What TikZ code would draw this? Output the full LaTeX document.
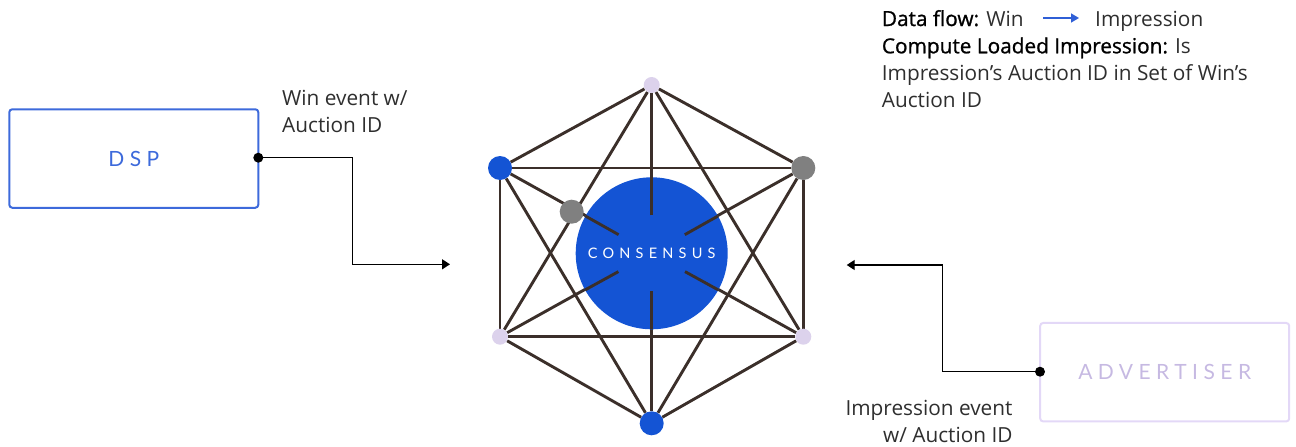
\documentclass[tikz,border=0pt]{standalone}
\usepackage{fontspec}
\setmainfont{Open Sans}
\newfontfamily\medfont{Open Sans}[FakeBold=1.0]
\newfontfamily\boxfont{Lato}
\usetikzlibrary{arrows.meta,calc}
\pgfdeclarelayer{bg}
\pgfsetlayers{bg,main}
\definecolor{nodeblue}{HTML}{1454D4}
\definecolor{dspblue}{HTML}{3D6ADB}
\definecolor{nodegray}{HTML}{808080}
\definecolor{lav}{HTML}{DCD2EC}
\definecolor{edgec}{HTML}{3B2F2A}
\definecolor{advborder}{HTML}{E3D8F7}
\definecolor{advtext}{HTML}{C6B9E2}
\definecolor{txt}{HTML}{2E2E2E}
\definecolor{legblue}{HTML}{2F5FD6}
\tikzset{
  edge/.style={draw=edgec, line width=2.9pt},
  bignode/.style={circle, inner sep=0pt, minimum size=24pt},
  smallnode/.style={circle, inner sep=0pt, minimum size=16pt, fill=lav},
  flow/.style={draw=black, line width=1.4pt, -{Triangle[length=8pt,width=10pt]}},
  dot/.style={circle, fill=black, inner sep=0pt, minimum size=10pt},
  label/.style={inner sep=0pt, text=txt, font=\fontsize{20.8}{27}\selectfont},
  box/.style={rectangle, rounded corners=3pt, line width=2pt, minimum width=249pt, minimum height=98.5pt,
              font=\boxfont\fontsize{21}{25}\selectfont\addfontfeature{LetterSpace=26}}
}
\begin{document}
\begin{tikzpicture}[x=1pt,y=-1pt]
\useasboundingbox (0,0) rectangle (1296,447);
% consensus hub
\node[circle, fill=nodeblue, inner sep=0pt, minimum size=152pt, text=white,
      font=\boxfont\fontsize{14.5}{16}\selectfont\addfontfeature{LetterSpace=36}] (c) at (651.7,253.3) {CONSENSUS};
\node[smallnode] (top) at (651.7,85) {};
\node[bignode, fill=nodeblue] (ul) at (500,168) {};
\node[bignode, fill=nodegray] (ur) at (803.3,168) {};
\node[smallnode] (ll) at (500,336.7) {};
\node[smallnode] (lr) at (803.3,336.7) {};
\node[bignode, fill=nodeblue] (bot) at (651.7,423.3) {};
\node[bignode, fill=nodegray] (g) at (571.7,211.7) {};
\begin{pgfonlayer}{bg}
\draw[edge] (top) -- (ul);
\draw[edge] (top) -- (ur);
\draw[edge] (ul) -- (ll);
\draw[edge] (ur) -- (lr);
\draw[edge] (ll) -- (bot);
\draw[edge] (lr) -- (bot);
\draw[edge] (ul) -- (ur);
\draw[edge] (ll) -- (lr);
\draw[edge] (top) -- (ll);
\draw[edge] (top) -- (lr);
\draw[edge] (bot) -- (ul);
\draw[edge] (bot) -- (ur);
\draw[edge] (top) -- (bot);
\draw[edge] (ul) -- (lr);
\draw[edge] (ur) -- (ll);
\end{pgfonlayer}
\foreach \v in {top,bot,ul,ur,ll,lr}
  \draw[edge] ($(c)!38pt!(\v)$) -- ($(c)!76pt!(\v)$);
% DSP
\node[box, draw=dspblue, text=dspblue] (dsp) at (133.8,158.5) {DSP};
\node[dot] (d1) at (258.3,157.7) {};
\coordinate (k1) at (352.7,264.3);
\coordinate (a1) at (450,264.3);
\draw[flow] (d1.center) -| (k1) -- (a1);
\node[label, anchor=base west, align=left] (winlbl) at (282,132.3) {Win event w/\\Auction ID};
% Advertiser
\node[box, draw=advborder, text=advtext] (adv) at (1164.7,372.2) {ADVERTISER};
\node[dot] (d2) at (1040,371.7) {};
\coordinate (k2) at (942.7,265);
\coordinate (a2) at (846.7,265);
\draw[flow] (d2.center) -| (k2) -- (a2);
\node[label, anchor=base east, align=right] (implbl) at (1012.7,442.3) {Impression event\\w/ Auction ID};
% legend
\node[label, anchor=base west] (leg1) at (881.7,26) {{\medfont\color{black}Data flow:} Win};
\coordinate (la) at (1043,18);
\coordinate (lb) at (1079,18);
\draw[draw=legblue, line width=1.6pt, -{Triangle[length=8pt,width=9pt]}] (la) -- (lb);
\node[label, anchor=base west] (leg2) at (1095,26) {Impression};
\node[label, anchor=base west, align=left] (leg3) at (881.7,107.3) {{\medfont\color{black}Compute Loaded Impression:} Is\\Impression’s Auction ID in Set of Win’s\\Auction ID};
\end{tikzpicture}
\end{document}
